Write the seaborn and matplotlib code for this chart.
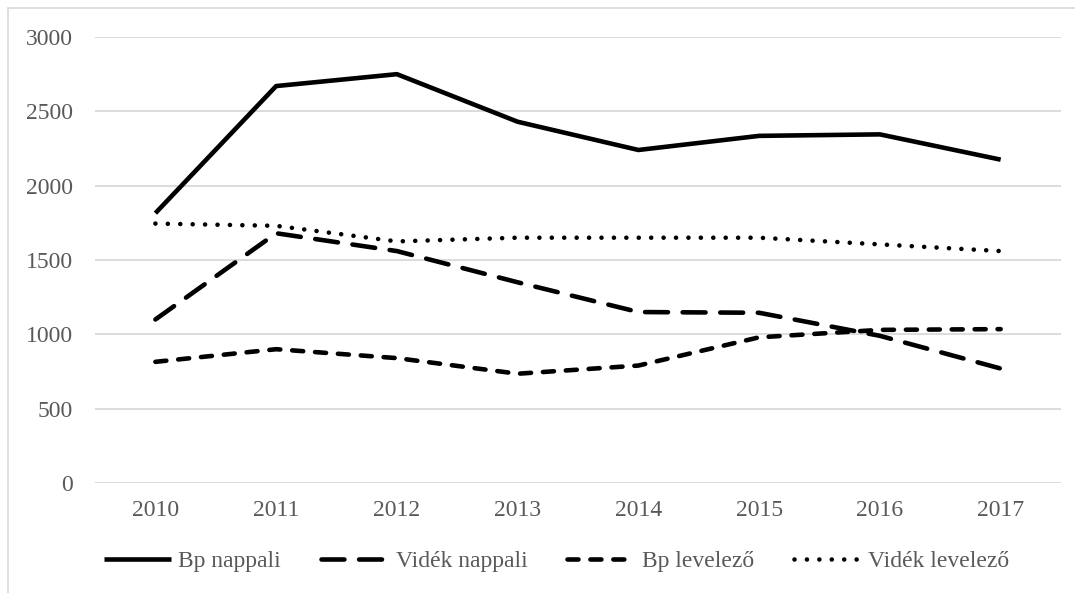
import matplotlib
matplotlib.use("Agg")
import matplotlib.pyplot as plt
import seaborn as sns
import pandas as pd

# --- Dados ---
evek = [2010, 2011, 2012, 2013, 2014, 2015, 2016, 2017]
bp_nappali = [1815, 2670, 2750, 2430, 2240, 2335, 2345, 2175]
videk_nappali = [1100, 1680, 1560, 1350, 1150, 1145, 990, 770]
bp_levelezo = [815, 900, 840, 735, 790, 980, 1030, 1035]
videk_levelezo = [1745, 1730, 1625, 1650, 1650, 1650, 1605, 1560]

sorozatok = ["Bp nappali", "Vidék nappali", "Bp levelező", "Vidék levelező"]

sns.set_theme(style="white")
plt.rcParams['font.family'] = ['Liberation Serif', 'DejaVu Serif']

df = pd.DataFrame({
    "ev": [str(e) for e in evek] * 4,
    "ertek": bp_nappali + videk_nappali + bp_levelezo + videk_levelezo,
    "sorozat": [s for s in sorozatok for _ in evek],
})

fig = plt.figure(figsize=(10.75, 5.93), dpi=100)
ax = fig.add_axes([0.0884, 0.1855, 0.8986, 0.7521])

stilusok = {
    "Bp nappali": dict(ls="-", capstyle="butt"),
    "Vidék nappali": dict(ls=(0, (5.0, 3.2)), capstyle="round"),
    "Bp levelező": dict(ls=(0, (2.4, 2.6)), capstyle="round"),
    "Vidék levelező": dict(ls=(0, (0.01, 2.7)), capstyle="round"),
}

for nome in sorozatok:
    sub = df[df["sorozat"] == nome]
    st = stilusok[nome]
    sns.lineplot(data=sub, x="ev", y="ertek", ax=ax, color="black", lw=3.3,
                 linestyle=st["ls"], dash_capstyle=st["capstyle"],
                 solid_capstyle="butt", label=nome)

ax.set_xlim(-0.5, len(evek) - 0.5)
ax.set_ylim(0, 3000)
ax.set_yticks(range(0, 3001, 500))
ax.yaxis.grid(True, color="#d9d9d9", lw=1.3)
ax.xaxis.grid(False)
for s in ax.spines.values():
    s.set_visible(False)
ax.set_xlabel("")
ax.set_ylabel("")
ax.tick_params(axis="both", colors="#595959", labelsize=17, length=0)
ax.tick_params(axis="y", pad=16)
ax.tick_params(axis="x", pad=12)

leg = ax.legend(loc="center", bbox_to_anchor=(0.478, -0.175), ncol=4, frameon=False,
                fontsize=17, handlelength=2.85, handletextpad=0.3, columnspacing=1.7)
for t in leg.get_texts():
    t.set_color("#595959")

# moldura do gráfico (borda cinza)
fig.add_artist(plt.Line2D([8 / 1075, 8 / 1075], [0, 1 - 8 / 593], transform=fig.transFigure,
                          color="#d9d9d9", lw=1.2))
fig.add_artist(plt.Line2D([8 / 1075, 1], [1 - 8 / 593, 1 - 8 / 593], transform=fig.transFigure,
                          color="#d9d9d9", lw=1.2))

fig.savefig("out.png", dpi=100)
plt.close()
